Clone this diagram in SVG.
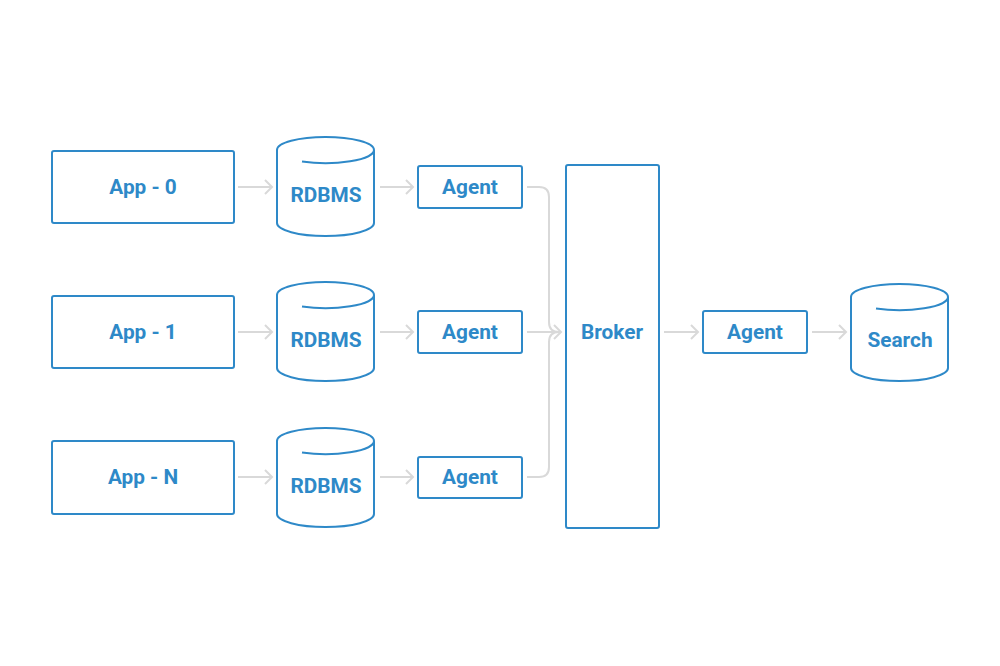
<svg xmlns="http://www.w3.org/2000/svg" width="1000" height="666" viewBox="0 0 1000 666">
<defs>
<marker id="chev" markerWidth="12" markerHeight="18" refX="9" refY="9" orient="auto" markerUnits="userSpaceOnUse">
<path d="M2,2 L9,9 L2,16" fill="none" stroke="#d9d9d9" stroke-width="2"/>
</marker>
</defs>
<style>
.box{fill:#fff;stroke:#2e89c8;stroke-width:2}
.cyl{fill:#fff;stroke:#2e89c8;stroke-width:2}
.lbl{font-family:Roboto,"Liberation Sans",sans-serif;font-weight:700;font-size:20.8px;fill:#2e89c8;text-anchor:middle}
.con{fill:none;stroke:#d9d9d9;stroke-width:2}
</style>
<rect width="1000" height="666" fill="#fff"/>
<g id="connectors">
<path class="con" d="M238,187 H272" marker-end="url(#chev)"/>
<path class="con" d="M238,332 H272" marker-end="url(#chev)"/>
<path class="con" d="M238,477 H272" marker-end="url(#chev)"/>
<path class="con" d="M380,187 H413" marker-end="url(#chev)"/>
<path class="con" d="M380,332 H413" marker-end="url(#chev)"/>
<path class="con" d="M380,477 H413" marker-end="url(#chev)"/>
<path class="con" d="M527,187 H539 Q549,187 549,197 V322 Q549,332 559,332"/>
<path class="con" d="M527,477 H539 Q549,477 549,467 V342 Q549,332 559,332"/>
<path class="con" d="M527,332 H561" marker-end="url(#chev)"/>
<path class="con" d="M664,332 H698" marker-end="url(#chev)"/>
<path class="con" d="M812,332 H846" marker-end="url(#chev)"/>
</g>
<g id="app0"><rect class="box" x="52" y="151" width="182" height="72" rx="2"/><text class="lbl" x="143" y="194">App - 0</text></g>
<g id="app1"><rect class="box" x="52" y="296" width="182" height="72" rx="2"/><text class="lbl" x="143" y="339">App - 1</text></g>
<g id="appN"><rect class="box" x="52" y="441" width="182" height="73" rx="2"/><text class="lbl" x="143" y="484">App - N</text></g>
<g id="rdbms0">
<path class="cyl" d="M277,150 A48.5,13 0 0 1 374,150 V223 A48.5,13 0 0 1 277,223 Z"/>
<path class="con" style="stroke:#2e89c8" d="M302,161.4 A48.5,13 0 0 0 374,150"/>
<text class="lbl" x="326" y="202">RDBMS</text>
</g>
<g id="rdbms1">
<path class="cyl" d="M277,295 A48.5,13 0 0 1 374,295 V368 A48.5,13 0 0 1 277,368 Z"/>
<path class="con" style="stroke:#2e89c8" d="M302,306.4 A48.5,13 0 0 0 374,295"/>
<text class="lbl" x="326" y="347">RDBMS</text>
</g>
<g id="rdbmsN">
<path class="cyl" d="M277,441 A48.5,13 0 0 1 374,441 V514 A48.5,13 0 0 1 277,514 Z"/>
<path class="con" style="stroke:#2e89c8" d="M302,452.4 A48.5,13 0 0 0 374,441"/>
<text class="lbl" x="326" y="493">RDBMS</text>
</g>
<g id="agent0"><rect class="box" x="418" y="166" width="104" height="42" rx="2"/><text class="lbl" x="470" y="194">Agent</text></g>
<g id="agent1"><rect class="box" x="418" y="311" width="104" height="42" rx="2"/><text class="lbl" x="470" y="339">Agent</text></g>
<g id="agentN"><rect class="box" x="418" y="457" width="104" height="41" rx="2"/><text class="lbl" x="470" y="484">Agent</text></g>
<g id="broker"><rect class="box" x="566" y="165" width="93" height="363" rx="2"/><text class="lbl" x="612" y="339">Broker</text></g>
<g id="agentOut"><rect class="box" x="703" y="311" width="104" height="42" rx="2"/><text class="lbl" x="755" y="339">Agent</text></g>
<g id="search">
<path class="cyl" d="M851,297 A48.5,13 0 0 1 948,297 V368 A48.5,13 0 0 1 851,368 Z"/>
<path class="con" style="stroke:#2e89c8" d="M876,308.4 A48.5,13 0 0 0 948,297"/>
<text class="lbl" x="900" y="347">Search</text>
</g>
</svg>
